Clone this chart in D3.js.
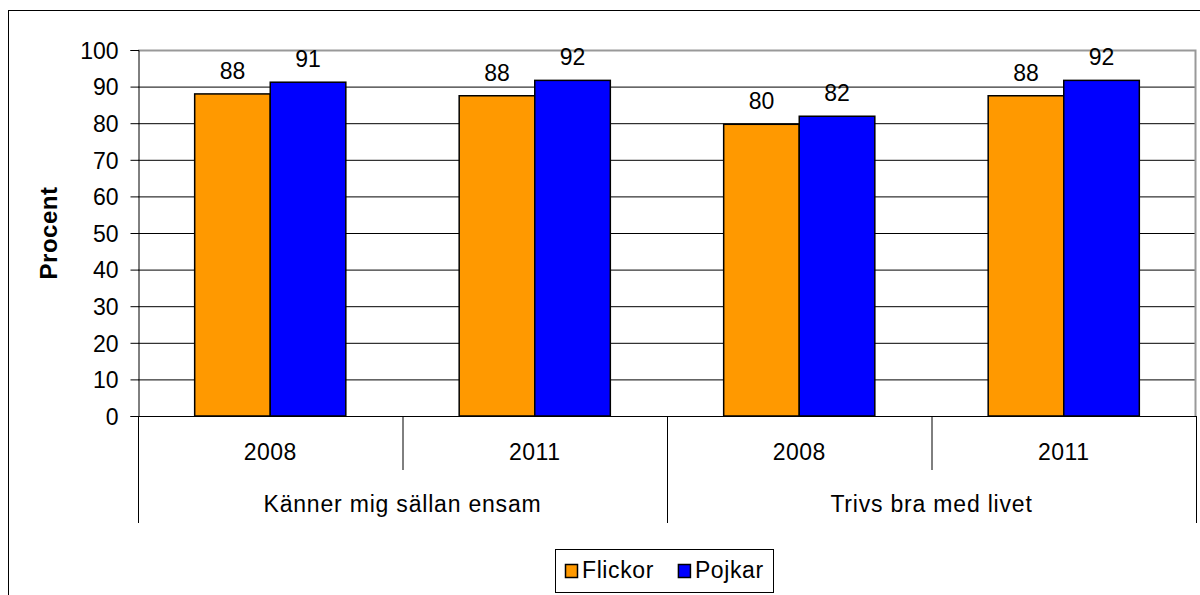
<!DOCTYPE html>
<head>
    <meta charset="utf-8">
    <title>Procent</title>
    <script src="https://d3js.org/d3.v7.min.js"></script>
    <style>
        body { margin: 0; background: #fff; }
        text { font-family: "Liberation Sans", Arial, sans-serif; fill: #000; }
    </style>
</head>
<body>
    <div id="container"></div>
    <script>
        //--------------------------DATA--------------------------//
        var groups = ["Känner mig sällan ensam", "Trivs bra med livet"];
        var years = ["2008", "2011", "2008", "2011"];
        var series = ["Flickor", "Pojkar"];
        var flickor = [88.0, 87.5, 79.7, 87.5];
        var pojkar = [91.2, 91.7, 81.9, 91.7];
        var yTicks = [0, 10, 20, 30, 40, 50, 60, 70, 80, 90, 100];
        var colors = ["#FF9900", "#0000FF"];

        //--------------------------SVG---------------------------//
        var W = 1200, H = 595,
            plot = { left: 138, right: 1196, top: 50, bottom: 416 };

        var svg = d3.select("#container").append("svg")
            .attr("width", W).attr("height", H);

        // outer chart frame (runs off the right and bottom edge)
        svg.append("rect")
            .attr("x", 8.5).attr("y", 10.5)
            .attr("width", 1300).attr("height", 700)
            .attr("fill", "#fff").attr("stroke", "#000");

        //-------------------------SCALES-------------------------//
        var cats = d3.range(years.length);
        var x0 = d3.scaleBand().domain(cats).range([plot.left, plot.right]);
        var x1 = d3.scaleBand().domain(series).range([0, x0.bandwidth()]).paddingOuter(0.75);
        var y = d3.scaleLinear().domain([0, 100]).range([plot.bottom, plot.top]);
        var color = d3.scaleOrdinal().domain(series).range(colors);

        //--------------------------GRID--------------------------//
        svg.append("g")
            .selectAll("line")
            .data(yTicks.filter(function (d) { return d > 0 && d < 100; }))
            .enter().append("line")
            .attr("x1", plot.left).attr("x2", plot.right)
            .attr("y1", function (d) { return y(d) + 0.5; })
            .attr("y2", function (d) { return y(d) + 0.5; })
            .attr("stroke", "#000");

        // plot border top + right (gray)
        svg.append("path")
            .attr("d", "M" + plot.left + "," + (plot.top + 0.5) + "H" + (plot.right - 0.5) + "V" + plot.bottom)
            .attr("fill", "none").attr("stroke", "#999").attr("stroke-width", 2);

        //--------------------------AXES--------------------------//
        var yaxis = d3.axisLeft(y).tickValues(yTicks).tickSize(8).tickPadding(12);
        var gy = svg.append("g")
            .attr("transform", "translate(" + (plot.left + 0.5) + ",0)")
            .call(yaxis);
        gy.select(".domain").attr("stroke", "#000");
        gy.selectAll(".tick line").attr("stroke", "#000");
        gy.selectAll(".tick text")
            .attr("font-size", 23).attr("font-family", null)
            .attr("dy", "0.36em");

        // y title
        svg.append("text")
            .attr("transform", "translate(57," + ((plot.top + plot.bottom) / 2) + ") rotate(-90)")
            .attr("text-anchor", "middle")
            .attr("font-size", 24).attr("font-weight", "bold")
            .attr("letter-spacing", 0.5)
            .text("Procent");

        //--------------------------BARS--------------------------//
        var rows = cats.map(function (i) {
            return [
                { cat: i, s: series[0], v: flickor[i] },
                { cat: i, s: series[1], v: pojkar[i] }
            ];
        });

        var bars = svg.append("g").selectAll("g")
            .data(rows).enter().append("g")
            .attr("transform", function (d, i) { return "translate(" + x0(i) + ",0)"; });

        bars.selectAll("rect")
            .data(function (d) { return d; })
            .enter().append("rect")
            .attr("x", function (d) { return x1(d.s); })
            .attr("y", function (d) { return y(d.v); })
            .attr("width", x1.bandwidth())
            .attr("height", function (d) { return y(0) - y(d.v); })
            .attr("fill", function (d) { return color(d.s); })
            .attr("stroke", "#000").attr("stroke-width", 1.5);

        bars.selectAll("text")
            .data(function (d) { return d; })
            .enter().append("text")
            .attr("x", function (d) { return x1(d.s) + x1.bandwidth() / 2; })
            .attr("y", function (d) { return y(d.v) - 15; })
            .attr("text-anchor", "middle")
            .attr("font-size", 23)
            .text(function (d) { return Math.round(d.v); });

        // x axis line
        svg.append("line")
            .attr("x1", plot.left).attr("x2", plot.right)
            .attr("y1", plot.bottom + 0.5).attr("y2", plot.bottom + 0.5)
            .attr("stroke", "#000");

        //------------------------X LABELS------------------------//
        // separators: short between years, long between groups
        var seps = d3.range(years.length + 1);
        svg.append("g").selectAll("line")
            .data(seps).enter().append("line")
            .attr("x1", function (i) { return (i < years.length ? x0(i) : plot.right) + 0.5; })
            .attr("x2", function (i) { return (i < years.length ? x0(i) : plot.right) + 0.5; })
            .attr("y1", plot.bottom)
            .attr("y2", function (i) { return i % 2 === 0 ? 523 : 470; })
            .attr("stroke", "#000");

        svg.append("g").selectAll("text")
            .data(years).enter().append("text")
            .attr("x", function (d, i) { return x0(i) + x0.bandwidth() / 2; })
            .attr("y", 460)
            .attr("text-anchor", "middle")
            .attr("font-size", 23).attr("letter-spacing", 0.5)
            .text(function (d) { return d; });

        svg.append("g").selectAll("text")
            .data(groups).enter().append("text")
            .attr("x", function (d, i) { return x0(i * 2) + x0.bandwidth(); })
            .attr("y", 512)
            .attr("text-anchor", "middle")
            .attr("font-size", 23).attr("letter-spacing", 0.8)
            .text(function (d) { return d; });

        //-------------------------LEGEND-------------------------//
        var leg = svg.append("g");
        leg.append("rect")
            .attr("x", 555.5).attr("y", 549.5)
            .attr("width", 218).attr("height", 43)
            .attr("fill", "#fff").attr("stroke", "#000");

        var lx = 565;
        series.forEach(function (s) {
            leg.append("rect")
                .attr("x", lx + 0.5).attr("y", 564.5)
                .attr("width", 12).attr("height", 13)
                .attr("fill", color(s)).attr("stroke", "#000").attr("stroke-width", 1.5);
            var t = leg.append("text")
                .attr("x", lx + 17).attr("y", 578)
                .attr("font-size", 23).attr("letter-spacing", 0.6)
                .text(s);
            lx += 17 + t.node().getComputedTextLength() + 24;
        });
    </script>
</body>
